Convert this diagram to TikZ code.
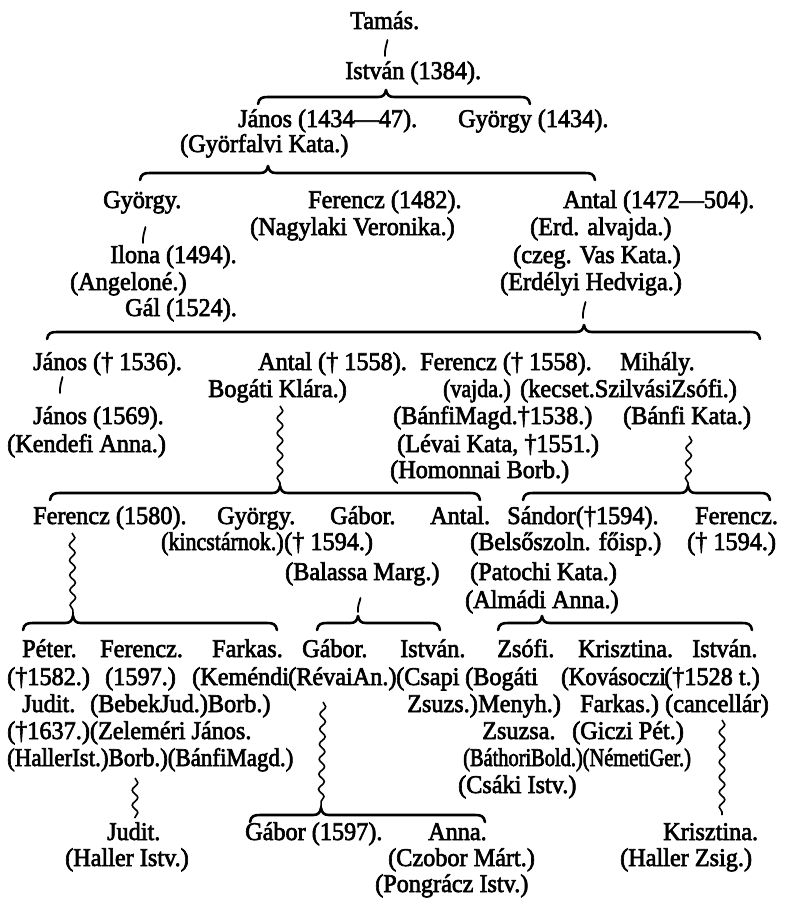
\documentclass[tikz,border=0pt]{standalone}
\usepackage{fontspec}
\setmainfont[FakeStretch=0.95,FakeBold=2.5]{Liberation Serif}
\newfontfamily\narrowA[FakeStretch=0.86,FakeBold=2.5]{Liberation Serif}
\newfontfamily\narrowB[FakeStretch=0.80,FakeBold=2.5]{Liberation Serif}
\newfontfamily\narrowC[FakeStretch=0.90,FakeBold=2.5]{Liberation Serif}
\usetikzlibrary{decorations.pathmorphing}
\tikzset{
  t/.style={anchor=base west, inner sep=0pt, font=\fontsize{25.5pt}{30pt}\selectfont},
  bracestyle/.style={line width=2.6pt, line cap=round, line join=round},
  wavy/.style={line width=1.6pt, decorate, decoration={snake, segment length=15pt, amplitude=2.8pt}},
  tick/.style={line width=1.8pt, line cap=round}
}
\newcommand\kapocs[5]{% name, left x, peak x, right x, y
  \coordinate (#1) at (#3,#5-7);
  \draw[bracestyle] (#2,#5+7) .. controls (#2+1,#5+1) and (#2+4,#5) .. (#2+10,#5)
    -- (#3-8,#5) .. controls (#3-3,#5) and (#3-1,#5-2) .. (#1)
    .. controls (#3+1,#5-2) and (#3+3,#5) .. (#3+8,#5)
    -- (#4-10,#5) .. controls (#4-4,#5) and (#4-1,#5+1) .. (#4,#5+7);
}
\newcommand\jel[3]{% x, y1, y2 : short tick mark
  \draw[tick] (#1+1.5,#2) .. controls (#1+0.5,#2+5) and (#1-1.5,#3-7) .. (#1-1,#3);
}
\begin{document}
\begin{tikzpicture}[x=1pt,y=-1pt]
\useasboundingbox (0,0) rectangle (787,907);
\fill[white] (0,0) rectangle (787,907);

% generation 1-2
\node[t] (tamas) at (350,29) {Tamás.};
\jel{386}{40}{56}
\node[t] (istvan) at (345,79) {István (1384).};
\kapocs{b1}{258}{386}{530}{97}
\node[t] (janos1) at (238,127) {János (1434—47).};
\node[t] (gyorgy1) at (458,127) {György (1434).};
\node[t] (gyorfalvi) at (180,152) {(Györfalvi Kata.)};

% generation 3
\kapocs{b2}{140}{268}{595}{173}
\node[t] (gyorgy2) at (103,208) {György.};
\node[t] (ferencz1) at (308,208) {Ferencz (1482).};
\node[t] (antal1) at (563,208) {Antal (1472—504).};
\node[t] (nagylaki) at (250,235) {(Nagylaki Veronika.)};
\node[t] (erd) at (530,235) {(Erd. alvajda.)};
\jel{144}{227}{243}
\node[t] (ilona) at (110,263) {Ilona (1494).};
\node[t] (czeg) at (513,263) {(czeg. Vas Kata.)};
\node[t] (angelone) at (70,290) {(Angeloné.)};
\node[t] (erdelyi) at (500,290) {(Erdélyi Hedviga.)};
\node[t] (gal) at (125,316) {Gál (1524).};

% generation 4
\jel{584}{302}{318}
\kapocs{b3}{47}{584}{760}{332}
\node[t] (janos2) at (33,370) {János († 1536).};
\node[t] (antal2) at (258,370) {Antal († 1558).};
\node[t] (ferencz2) at (420,370) {Ferencz († 1558).};
\node[t] (mihaly) at (620,370) {Mihály.};
\node[t] (bogati1) at (208,397) {Bogáti Klára.)};
\node[t] (vajda) at (443,397) {\narrowA (vajda.)};
\node[t] (kecset) at (520,397) {(kecset.SzilvásiZsófi.)};
\jel{61}{377}{393}
\node[t] (janos3) at (33,424) {János (1569).};
\node[t] (banfim) at (393,424) {(BánfiMagd.†1538.)};
\node[t] (banfik) at (623,424) {(Bánfi Kata.)};
\node[t] (kendefi) at (7,452) {(Kendefi Anna.)};
\node[t] (levai) at (397,452) {(Lévai Kata, †1551.)};
\node[t] (homonnai) at (390,478) {(Homonnai Borb.)};

% generation 5
\kapocs{b4}{50}{280}{480}{493}
\kapocs{b5}{523}{688}{770}{493}
\draw[wavy] (280,406) -- (b4);
\draw[wavy] (689,436) -- (b5);
\node[t] (ferencz3) at (33,524) {Ferencz (1580).};
\node[t] (gyorgy3) at (217,524) {György.};
\node[t] (gabor1) at (330,524) {Gábor.};
\node[t] (antal3) at (430,524) {Antal.};
\node[t] (sandor) at (507,524) {Sándor(†1594).};
\node[t] (ferencz4) at (695,524) {Ferencz.};
\node[t] (kincs) at (161,550) {\narrowA (kincstárnok.)};
\node[t] (gabord) at (284,550) {(† 1594.)};
\node[t] (belso) at (470,550) {(Belsőszoln. főisp.)};
\node[t] (ferenczd) at (687,550) {(† 1594.)};
\node[t] (balassa) at (285,580) {(Balassa Marg.)};
\node[t] (patochi) at (470,580) {(Patochi Kata.)};
\node[t] (almadi) at (465,608) {(Almádi Anna.)};

% generation 6
\kapocs{b6}{23}{73}{277}{623}
\kapocs{b7}{317}{358}{440}{623}
\kapocs{b8}{498}{542}{752}{623}
\draw[wavy] (72,533) -- (b6);
\jel{359}{598}{612}
\node[t] (peter) at (22,657) {Péter.};
\node[t] (ferencz5) at (100,657) {Ferencz.};
\node[t] (farkas1) at (212,657) {Farkas.};
\node[t] (gabor2) at (302,657) {Gábor.};
\node[t] (istvan2) at (400,657) {István.};
\node[t] (zsofi) at (497,657) {Zsófi.};
\node[t] (krisztina1) at (578,657) {Krisztina.};
\node[t] (istvan3) at (692,657) {István.};

\node[t] (r2a) at (7,685) {(†1582.)};
\node[t] (r2b) at (105,685) {(1597.)};
\node[t] (r2c) at (192,685) {(Keméndi};
\node[t] (r2d) at (288,685) {(RévaiAn.)};
\node[t] (r2e) at (396,685) {(Csapi};
\node[t] (r2f) at (465,685) {(Bogáti};
\node[t] (r2g) at (561,685) {\narrowC (Kovásoczi};
\node[t] (r2h) at (664,685) {(†1528 t.)};

\node[t] (r3a) at (22,712) {Judit.};
\node[t] (r3b) at (90,712) {(BebekJud.)Borb.)};
\node[t] (r3c) at (407,712) {Zsuzs.)};
\node[t] (r3d) at (478,712) {Menyh.)};
\node[t] (r3e) at (580,712) {Farkas.)};
\node[t] (r3f) at (665,712) {(cancellár)};

\node[t] (r4a) at (7,739) {(†1637.)(Zeleméri János.};
\node[t] (r4b) at (482,739) {Zsuzsa.};
\node[t] (r4c) at (572,739) {(Giczi Pét.)};

\node[t] (r5a) at (7,766) {\narrowC (HallerIst.)Borb.)(BánfiMagd.)};
\node[t] (r5b) at (463,766) {\narrowB (BáthoriBold.)(NémetiGer.)};
\node[t] (r6) at (458,793) {(Csáki Istv.)};

% generation 7
\kapocs{b9}{250}{321}{485}{815}
\draw[wavy] (323,702) -- (b9);
\coordinate (k1) at (722,720);
\coordinate (k2) at (722,815);
\draw[wavy] (k1) -- (k2);
\coordinate (h1) at (135,778);
\coordinate (h2) at (135,818);
\draw[wavy] (h1) -- (h2);

\node[t] (judit2) at (107,840) {Judit.};
\node[t] (gabor3) at (245,840) {Gábor (1597).};
\node[t] (anna) at (428,840) {Anna.};
\node[t] (krisztina2) at (663,840) {Krisztina.};
\node[t] (hallerI) at (65,866) {(Haller Istv.)};
\node[t] (czobor) at (388,866) {(Czobor Márt.)};
\node[t] (hallerZ) at (620,866) {(Haller Zsig.)};
\node[t] (pongracz) at (375,892) {(Pongrácz Istv.)};
\end{tikzpicture}
\end{document}
